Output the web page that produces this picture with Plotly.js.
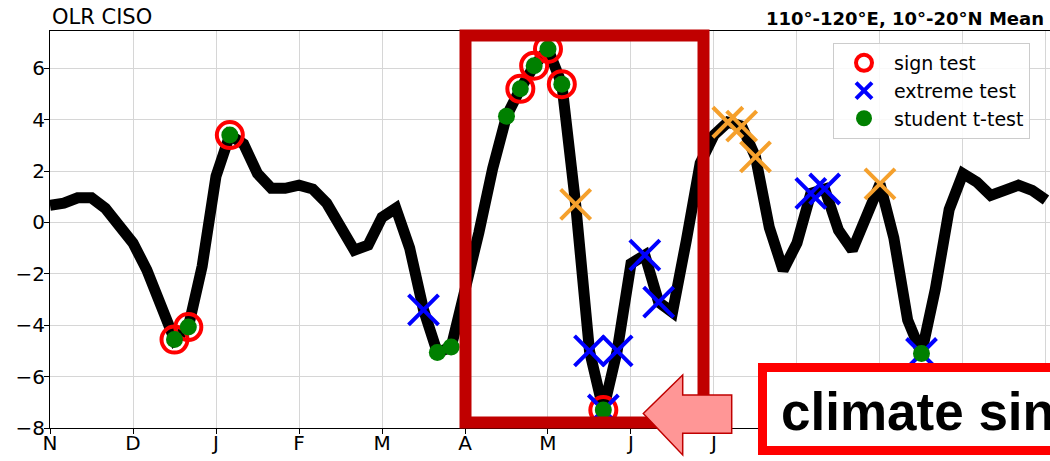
<!DOCTYPE html>
<html>
<head>
<meta charset="utf-8">
<script src="https://cdn.plot.ly/plotly-3.0.1.min.js"></script>
<style>
  html, body { margin: 0; padding: 0; background: #ffffff; overflow: hidden; }
  #chart { width: 1050px; height: 461px; }
</style>
</head>
<body>
<div id="chart"></div>
<script>
// ---- data (pentad index from 1 Nov) ----
const monthLabels = ['N','D','J','F','M','A','M','J','J','A','S','O','N'];
const monthTickPentads = [0,6,12,18,24,30,36,42,48,54,60,66,72];

const olrCiso = [
  0.67, 0.75, 0.96, 0.96, 0.55, -0.2, -0.8, -1.85, -3.3, -4.56,
  -4.07, -1.7, 1.8, 3.4, 3.05, 1.9, 1.33, 1.33, 1.45, 1.3,
  0.75, -0.2, -1.08, -0.88, 0.2, 0.55, -1.0, -3.4, -5.06, -4.85,
  -2.8, -0.4, 2.1, 4.13, 5.2, 6.1, 6.75, 5.38, 0.7, -5.0,
  -7.3, -5.0, -1.6, -1.27, -3.1, -3.5, -0.7, 2.3, 3.4, 3.9,
  3.75, 2.55, -0.2, -1.86, -0.8, 1.13, 1.3, -0.3, -1.08, 0.3,
  1.5, -0.6, -3.8, -5.1, -2.6, 0.5, 1.9, 1.57, 1.05, 1.25,
  1.45, 1.25, 0.87
];
const pentads = olrCiso.map((v, i) => i);

const signTestIdx    = [9, 10, 13, 34, 35, 36, 37, 40];
const extremeTestIdx = [27, 39, 40, 41, 43, 44, 55, 56, 63];
const otherTestIdx   = [38, 49, 50, 51, 60];
const tTestIdx       = [9, 10, 13, 28, 29, 33, 34, 35, 36, 37, 40, 63];

const titleLeft  = 'OLR CISO';
const titleRight = '110°-120°E, 10°-20°N Mean';
const calloutText = 'climate sin';

// ---- helpers: pixel -> paper (plot area 50..1050 x, 31..428 y) ----
const PL = 50, PW = 1000, PB = 428, PH = 397;
const px = X => (X - PL) / PW;
const py = Y => (PB - Y) / PH;

const pick = idx => ({ x: idx.map(i => pentads[i]), y: idx.map(i => olrCiso[i]) });

const FONT = 'DejaVu Sans, sans-serif';

const traces = [
  { x: pentads, y: olrCiso, type: 'scatter', mode: 'lines',
    line: { color: '#000000', width: 11 }, showlegend: false, hoverinfo: 'skip' },
  Object.assign(pick(signTestIdx), { type: 'scatter', mode: 'markers', name: 'sign test',
    marker: { symbol: 'circle-open', size: 26, color: '#ff0000', line: { width: 4, color: '#ff0000' } } }),
  Object.assign(pick(extremeTestIdx), { type: 'scatter', mode: 'markers', name: 'extreme test',
    marker: { symbol: 'x-thin-open', size: 30, color: '#0000ff', line: { width: 4, color: '#0000ff' } } }),
  Object.assign(pick(otherTestIdx), { type: 'scatter', mode: 'markers', name: 'other', showlegend: false,
    marker: { symbol: 'x-thin-open', size: 30, color: '#f5a02c', line: { width: 4, color: '#f5a02c' } } }),
  Object.assign(pick(tTestIdx), { type: 'scatter', mode: 'markers', name: 'student t-test',
    marker: { symbol: 'circle', size: 17, color: '#008000', line: { width: 0 } } })
];

const axisCommon = {
  showgrid: true, gridcolor: '#d6d6d6', gridwidth: 1,
  zeroline: false, showline: true, linecolor: '#000000', linewidth: 1,
  ticks: 'outside', ticklen: 5, tickwidth: 1, tickcolor: '#000000',
  tickfont: { family: FONT, size: 20, color: '#000000' }
};

const arrowPts = [
  [643.3, 413.5], [682.7, 375], [682.7, 395], [731.7, 395],
  [731.7, 433.3], [682.7, 433.3], [682.7, 455]
];
const arrowPath = 'M ' + arrowPts.map(p => px(p[0]).toFixed(4) + ',' + py(p[1]).toFixed(4)).join(' L ') + ' Z';

const layout = {
  width: 1050, height: 461,
  margin: { l: PL, r: 0, t: 31, b: 33, pad: 0 },
  paper_bgcolor: '#ffffff', plot_bgcolor: '#ffffff',
  font: { family: FONT, color: '#000000' },
  xaxis: Object.assign({}, axisCommon, {
    range: [0, 72.29], tickmode: 'array', tickvals: monthTickPentads, ticktext: monthLabels,
    mirror: true, ticklabelstandoff: -8
  }),
  yaxis: Object.assign({}, axisCommon, {
    range: [-8, 7.45], tickmode: 'array', tickvals: [-8, -6, -4, -2, 0, 2, 4, 6],
    mirror: false, ticklabelstandoff: -5
  }),
  legend: {
    x: px(833), y: py(43), xanchor: 'left', yanchor: 'top',
    bgcolor: 'rgba(255,255,255,0.85)', bordercolor: '#cccccc', borderwidth: 1,
    font: { family: FONT, size: 19, color: '#000000' }, itemsizing: 'trace', itemwidth: 50
  },
  shapes: [
    { type: 'rect', xref: 'paper', yref: 'paper', layer: 'above',
      x0: px(465.5), x1: px(703.5), y0: py(422.5), y1: py(35.5),
      line: { color: '#c00000', width: 12 }, fillcolor: 'rgba(0,0,0,0)' },
    { type: 'path', xref: 'paper', yref: 'paper', layer: 'above', path: arrowPath,
      line: { color: '#c00000', width: 1.5 }, fillcolor: '#ff9696' },
    { type: 'rect', xref: 'paper', yref: 'paper', layer: 'above',
      x0: px(762.5), x1: px(1200), y0: py(450.5), y1: py(367.5),
      line: { color: '#ff0000', width: 9 }, fillcolor: '#ffffff' }
  ],
  annotations: [
    { text: titleLeft, xref: 'paper', yref: 'paper', x: 0, y: 1, xanchor: 'left', yanchor: 'bottom',
      showarrow: false, font: { family: FONT, size: 21, color: '#000000' } },
    { text: '<b>' + titleRight + '</b>', xref: 'paper', yref: 'paper', x: px(1046), y: 1,
      xanchor: 'right', yanchor: 'bottom', showarrow: false,
      font: { family: FONT, size: 18, color: '#000000' } },
    { text: '<b>' + calloutText + '</b>', xref: 'paper', yref: 'paper', x: px(779), y: py(411.6),
      xanchor: 'left', yanchor: 'middle', showarrow: false,
      font: { family: 'Liberation Sans, Arial, sans-serif', size: 53, color: '#000000' } }
  ]
};

Plotly.newPlot('chart', traces, layout, { displayModeBar: false, staticPlot: true });
</script>
</body>
</html>
